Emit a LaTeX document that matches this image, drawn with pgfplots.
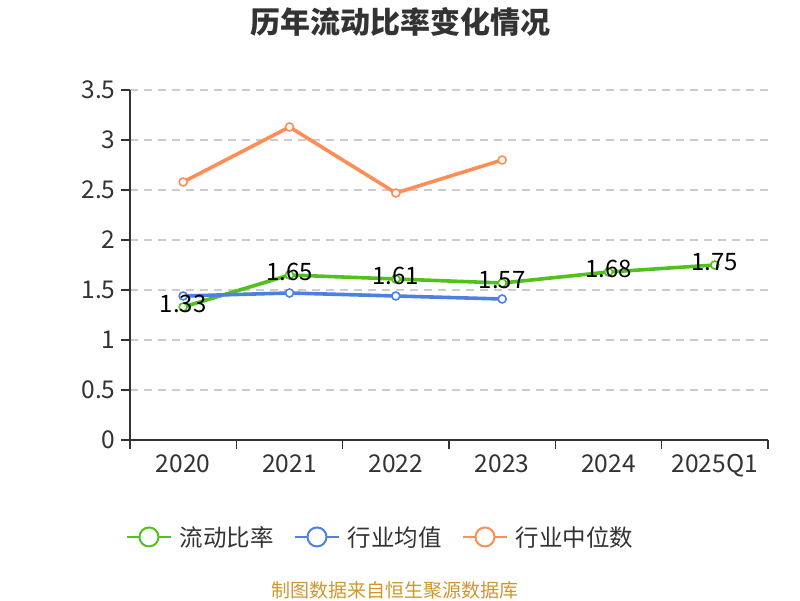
\documentclass[border=0pt]{standalone}
\usepackage{pgfplots}
\pgfplotsset{compat=1.18}
\usepackage{fontspec}
\setmainfont{Noto Sans CJK SC}
\definecolor{cgreen}{RGB}{82,194,26}
\definecolor{cblue}{RGB}{77,128,226}
\definecolor{corange}{RGB}{255,141,86}
\definecolor{axisc}{RGB}{51,51,51}
\definecolor{gridc}{RGB}{204,204,204}
\definecolor{footc}{RGB}{204,152,44}
\begin{document}
\begin{tikzpicture}[x=1pt,y=1pt]
\path[use as bounding box] (0,0) rectangle (800,600);
\node[font=\fontsize{30}{35}\selectfont\bfseries, text=axisc] at (400,578) {历年流动比率变化情况};
\node[font=\fontsize{19}{23}\selectfont, text=footc] at (395,10) {制图数据来自恒生聚源数据库};
\begin{axis}[
  at={(130pt,160pt)}, anchor=south west,
  scale only axis, width=638pt, height=350pt,
  xmin=-0.5, xmax=5.5, ymin=0, ymax=3.5,
  axis x line=bottom, axis y line=left,
  axis line style={axisc, line width=1.6pt, -},
  xtick={-0.5,0.5,1.5,2.5,3.5,4.5,5.5},
  xticklabels={2020,2021,2022,2023,2024,2025Q1,{}},
  x tick label style={xshift=53.17pt, yshift=-2pt},
  y tick label style={xshift=-2pt},
  ytick={0,0.5,...,3.5},
  tick align=outside, major tick length=9pt,
  tick style={axisc, line width=1.6pt},
  ymajorgrids,
  major grid style={gridc, line width=1.3pt, dash pattern=on 8pt off 6pt},
  ticklabel style={font=\fontsize{24.5}{28}\selectfont, text=axisc},
  /pgf/number format/assume math mode=true,
  legend columns=3,
  legend style={at={(0.393,-0.277)}, anchor=center, draw=none, fill=none,
    font=\fontsize{23.5}{27}\selectfont, text=axisc,
    /tikz/every odd column/.append style={column sep=6pt},
    /tikz/every even column/.append style={column sep=18pt}},
  legend image code/.code={
    \draw[line width=2pt] (0pt,0pt)--(44pt,0pt);
    \draw[line width=2pt,fill=white] (22pt,0pt) circle (9.5pt);
  },
  clip=false,
]
\addplot[cgreen, line width=3.6pt, mark=*, mark size=4pt,
  mark options={fill=white, draw=cgreen, line width=1.6pt}]
  coordinates {(0,1.33) (1,1.65) (2,1.61) (3,1.57) (4,1.68) (5,1.75)};
\addlegendentry{流动比率}
\addplot[cblue, line width=3.6pt, mark=*, mark size=4pt,
  mark options={fill=white, draw=cblue, line width=1.6pt}]
  coordinates {(0,1.44) (1,1.47) (2,1.44) (3,1.41)};
\addlegendentry{行业均值}
\addplot[corange, line width=3.6pt, mark=*, mark size=4pt,
  mark options={fill=white, draw=corange, line width=1.6pt}]
  coordinates {(0,2.58) (1,3.13) (2,2.47) (3,2.80)};
\addlegendentry{行业中位数}
\addplot[draw=none, mark=none, forget plot,
  nodes near coords, point meta=explicit symbolic,
  nodes near coords style={anchor=center, yshift=3pt, text=black,
    font=\fontsize{24}{28}\selectfont, inner sep=0pt}]
  coordinates {(0,1.33)[1.33] (1,1.65)[1.65] (2,1.61)[1.61] (3,1.57)[1.57] (4,1.68)[1.68] (5,1.75)[1.75]};
\end{axis}
\end{tikzpicture}
\end{document}
